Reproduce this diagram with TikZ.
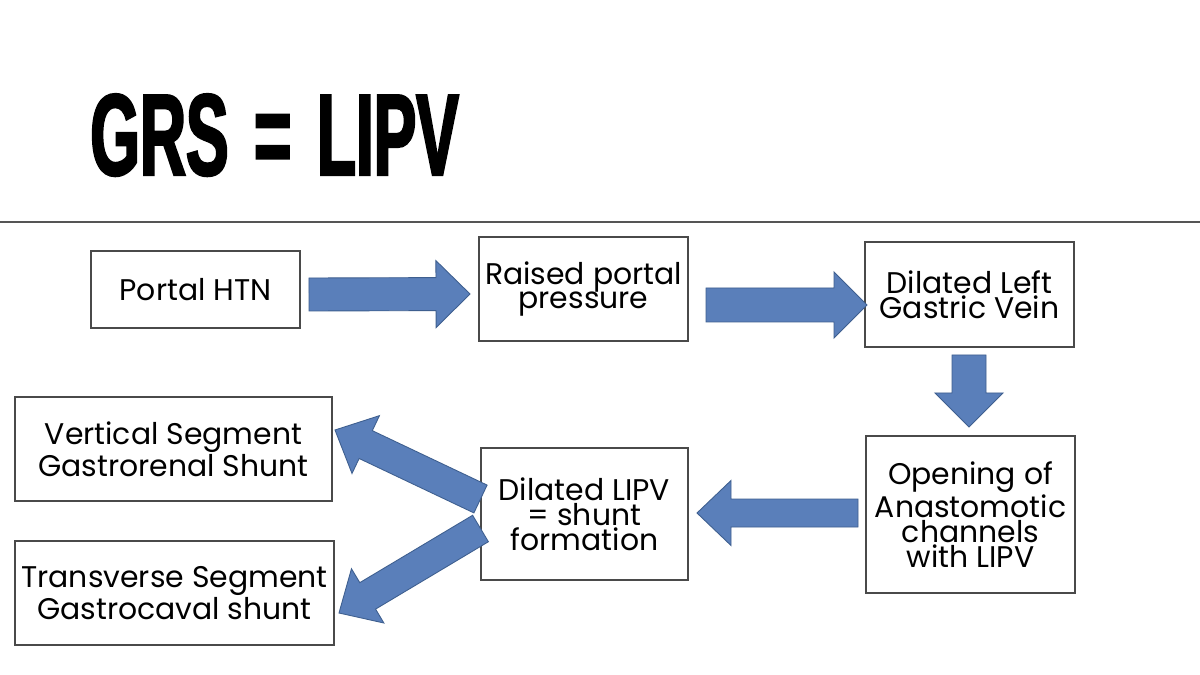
\documentclass[tikz,border=0pt]{standalone}
\usepackage{fontspec}
\setmainfont{Poppins}
\newfontfamily\titlefont[FakeStretch=0.55,FakeBold=2]{Liberation Sans Bold}
\usetikzlibrary{calc}
\definecolor{arrowfill}{HTML}{5A7FBA}
\definecolor{arrowline}{HTML}{3E5F8F}
\definecolor{boxline}{HTML}{4A4A4A}
\definecolor{ruleline}{HTML}{555555}
\tikzset{
  stepbox/.style={draw=boxline, line width=0.6pt, align=center, inner sep=0pt,
    font=\fontsize{17}{14.2}\selectfont},
  blockarrow/.style={fill=arrowfill, draw=arrowline, line width=0.5pt, line join=miter},
}
% base centre (x1,y1), tip (x2,y2), half shaft, half head, head length
\newcommand{\blockarr}[7]{%
  \pgfmathsetmacro{\bdx}{#3-#1}\pgfmathsetmacro{\bdy}{#4-#2}%
  \pgfmathsetmacro{\blen}{veclen(\bdx,\bdy)}%
  \pgfmathsetmacro{\bux}{\bdx/\blen}\pgfmathsetmacro{\buy}{\bdy/\blen}%
  \pgfmathsetmacro{\bhx}{#3-#7*\bux}\pgfmathsetmacro{\bhy}{#4-#7*\buy}%
  \filldraw[blockarrow] ({#1-#5*\buy},{#2+#5*\bux}) -- ({\bhx-#5*\buy},{\bhy+#5*\bux})
    -- ({\bhx-#6*\buy},{\bhy+#6*\bux}) -- (#3,#4) -- ({\bhx+#6*\buy},{\bhy-#6*\bux})
    -- ({\bhx+#5*\buy},{\bhy-#5*\bux}) -- ({#1+#5*\buy},{#2-#5*\bux}) -- cycle;
}
\begin{document}
\begin{tikzpicture}[x=0.02cm,y=-0.02cm]
\useasboundingbox[fill=white] (0,0) rectangle (1200,675);
% title
\node[anchor=base west, inner sep=0pt, font=\titlefont\fontsize{66}{66}\selectfont] (title) at (90,175) {GRS\kern4.5pt{} = \kern4.5pt LIPV};
% rule
\coordinate (ruleL) at (0,222);
\coordinate (ruleR) at (1200,222);
\draw[ruleline, line width=0.9pt] (ruleL) -- (ruleR);
% boxes
\node[stepbox, minimum width=209*0.02cm, minimum height=77*0.02cm] (htn) at (195.5,289.5) {Portal HTN};
\node[stepbox, minimum width=209*0.02cm, minimum height=104*0.02cm] (raised) at (583.5,289) {Raised portal\\pressure};
\node[stepbox, minimum width=209*0.02cm, minimum height=105*0.02cm] (lgv) at (969.5,294.5) {Dilated Left\\Gastric Vein};
\node[stepbox, minimum width=209*0.02cm, minimum height=157*0.02cm] (open) at (970.5,514.5) {Opening of\\Anastomotic\\channels\\with LIPV};
\node[stepbox, minimum width=207*0.02cm, minimum height=132*0.02cm] (lipv) at (584.5,514) {Dilated LIPV\\= shunt\\formation};
\node[stepbox, minimum width=317*0.02cm, minimum height=104*0.02cm] (vert) at (173.5,449) {Vertical Segment\\Gastrorenal Shunt};
\node[stepbox, minimum width=319*0.02cm, minimum height=104*0.02cm] (trans) at (174.5,593) {Transverse Segment\\Gastrocaval shunt};
% block arrows
\blockarr{309}{294.5}{470}{294}{16.5}{33.5}{34}
\blockarr{706}{305}{867}{305}{17}{33}{33}
\blockarr{969}{355}{969}{427}{17}{34}{34}
\blockarr{858}{513}{697}{513}{14}{32.5}{34}
\blockarr{480.5}{499}{335}{430}{15.4}{32}{34}
\blockarr{480.5}{528.5}{339}{613}{15.4}{31.6}{33.4}
\end{tikzpicture}
\end{document}
